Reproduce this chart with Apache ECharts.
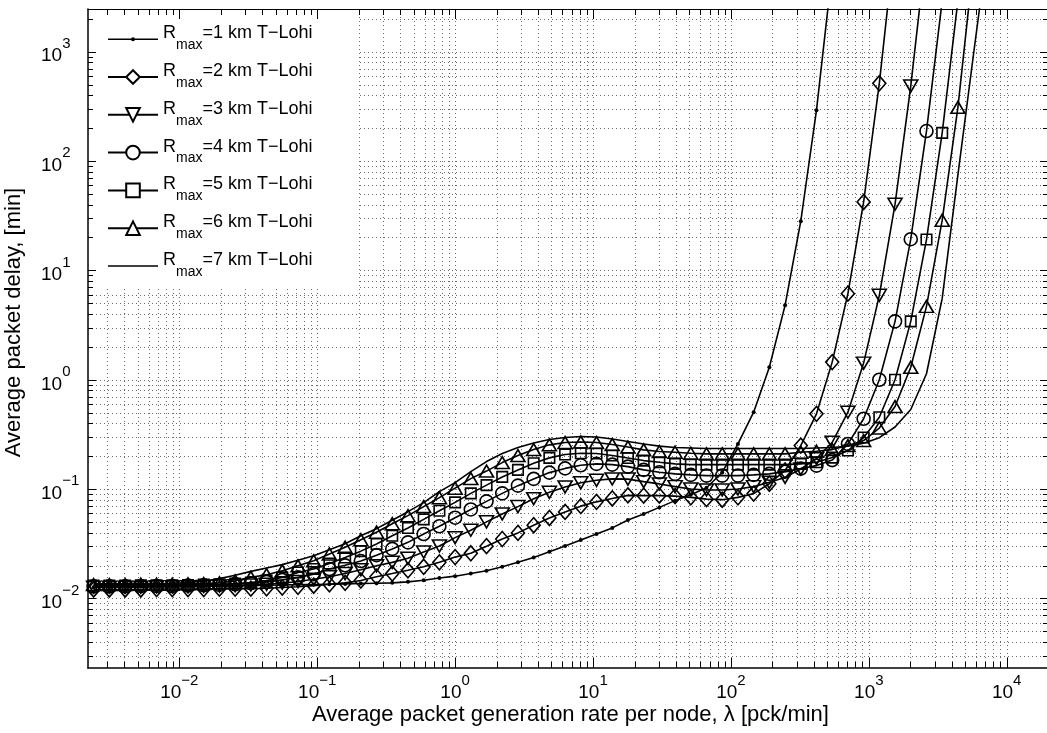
<!DOCTYPE html>
<html><head><meta charset="utf-8">
<script src="https://cdn.jsdelivr.net/npm/echarts@6/dist/echarts.min.js"></script>
<style>html,body{margin:0;padding:0;background:#fff}#c{width:1047px;height:733px}</style>
</head><body><div id="c"></div>
<script>
// ---- data ----
const rateValues = [0.00239, 0.00311, 0.00405, 0.00526, 0.00684, 0.00889, 0.01156, 0.01503, 0.01954, 0.0254,
  0.03302, 0.04292, 0.0558, 0.07254, 0.0943, 0.1226, 0.1594, 0.2072, 0.2693, 0.3501,
  0.4552, 0.5917, 0.7692, 1, 1.3, 1.69, 2.197, 2.856, 3.713, 4.827,
  6.275, 8.157, 10.6, 13.79, 17.92, 23.3, 30.29, 39.37, 51.19, 66.54,
  86.5, 112.5, 146.2, 190, 247.1, 321.2, 417.5, 542.8, 705.6, 917.3,
  1192, 1550, 2015, 2620, 3406, 4428, 5756, 7483];

const seriesNames = ['Rmax=1 km T−Lohi', 'Rmax=2 km T−Lohi', 'Rmax=3 km T−Lohi', 'Rmax=4 km T−Lohi',
  'Rmax=5 km T−Lohi', 'Rmax=6 km T−Lohi', 'Rmax=7 km T−Lohi'];

const delayR1 = [0.0127, 0.0127, 0.0127, 0.0128, 0.0128, 0.0128, 0.0129, 0.0129, 0.013, 0.013,
  0.0131, 0.0132, 0.0133, 0.0134, 0.0134, 0.0135, 0.0136, 0.0137, 0.0138, 0.0139,
  0.0142, 0.0147, 0.0154, 0.016, 0.0169, 0.0179, 0.0195, 0.0214, 0.0237, 0.0268,
  0.0302, 0.0343, 0.0389, 0.0442, 0.0522, 0.0593, 0.0681, 0.0785, 0.089, 0.103,
  0.142, 0.259, 0.505, 1.30, 4.79, 28.2, 292, 5560];
const delayR2 = [0.0121, 0.0121, 0.0121, 0.0121, 0.0122, 0.0122, 0.0122, 0.0122, 0.0123, 0.0123, 0.0123,
  0.0124, 0.0126, 0.0128, 0.0131, 0.0135, 0.0139, 0.0146, 0.0158, 0.0169, 0.0181,
  0.0195, 0.0214, 0.0239, 0.0259, 0.0301, 0.035, 0.0398, 0.0468, 0.0545, 0.0619,
  0.0699, 0.0765, 0.0822, 0.0877, 0.0872, 0.0872, 0.0863, 0.0841, 0.081, 0.0801,
  0.0841, 0.091, 0.112, 0.148, 0.250, 0.488, 1.45, 6.13, 42.3, 514, 10650];
const delayR3 = [0.0127, 0.0127, 0.0127, 0.0127, 0.0128, 0.0128, 0.0128, 0.0129, 0.013, 0.0131, 0.0133,
  0.0135, 0.0138, 0.0143, 0.015, 0.0158, 0.0169, 0.0183, 0.0199, 0.0214, 0.0233,
  0.0266, 0.0302, 0.036, 0.0421, 0.0502, 0.0593, 0.0692, 0.0818, 0.0935, 0.1047,
  0.1142, 0.1206, 0.124, 0.1235, 0.1171, 0.1116, 0.1054, 0.1004, 0.0983, 0.0983,
  0.1004, 0.1054, 0.1154, 0.128, 0.153, 0.19, 0.268, 0.505, 1.42, 5.92, 40.3, 485, 9100];
const delayR4 = [0.0129, 0.0129, 0.0129, 0.013, 0.013, 0.013, 0.0131, 0.0132, 0.0133, 0.0135,
  0.0138, 0.0142, 0.0148, 0.0156, 0.0167, 0.0186, 0.0201, 0.022, 0.0249, 0.0284,
  0.0326, 0.0389, 0.0458, 0.0548, 0.0652, 0.0773, 0.0915, 0.1076, 0.124, 0.1416,
  0.1547, 0.1652, 0.1701, 0.1676, 0.1607, 0.1499, 0.1425, 0.1378, 0.1349, 0.1329,
  0.1329, 0.1329, 0.1349, 0.1378, 0.1446, 0.1541, 0.1641, 0.1843, 0.259, 0.44,
  1.0, 3.42, 19.3, 188, 2930];
const delayR5 = [0.0131, 0.0131, 0.0131, 0.0132, 0.0132, 0.0132, 0.0133, 0.0134, 0.0135, 0.0137,
  0.014, 0.0146, 0.0156, 0.0173, 0.0186, 0.0209, 0.0237, 0.0271, 0.0315, 0.0375,
  0.0441, 0.0529, 0.0635, 0.0757, 0.0915, 0.1088, 0.1293, 0.1499, 0.1722, 0.1931,
  0.207, 0.2127, 0.212, 0.2027, 0.1923, 0.1824, 0.176, 0.1701, 0.1676, 0.1676,
  0.1676, 0.1676, 0.1676, 0.1676, 0.1676, 0.1701, 0.176, 0.1943, 0.2252, 0.2962,
  0.4545, 1.0, 3.42, 19.15, 181, 2930];
const delayR6 = [0.0134, 0.0134, 0.0134, 0.0135, 0.0135, 0.0135, 0.0136, 0.0137, 0.0139, 0.0145,
  0.0156, 0.0165, 0.0179, 0.0199, 0.0221, 0.0255, 0.0294, 0.0345, 0.0404, 0.0483,
  0.0572, 0.0692, 0.0836, 0.1021, 0.1248, 0.1462, 0.1748, 0.2027, 0.2299, 0.254,
  0.2666, 0.2694, 0.2666, 0.2556, 0.2424, 0.2285, 0.2205, 0.2173, 0.2127, 0.21,
  0.21, 0.21, 0.21, 0.21, 0.21, 0.2173, 0.2219, 0.2299, 0.2502, 0.278,
  0.362, 0.569, 1.30, 4.69, 28.8, 310, 6660];
const delayR7 = [0.0136, 0.0136, 0.0136, 0.0137, 0.0137, 0.0138, 0.014, 0.0144, 0.0152, 0.0163,
  0.0177, 0.019, 0.0204, 0.0224, 0.0246, 0.0279, 0.0317, 0.0375, 0.0435, 0.052,
  0.0622, 0.0752, 0.0949, 0.1147, 0.1446, 0.1786, 0.2114, 0.2399, 0.2637, 0.284,
  0.2962, 0.3026, 0.2994, 0.287, 0.2723, 0.2584, 0.2475, 0.2399, 0.2374, 0.2349,
  0.2349, 0.2349, 0.2349, 0.2349, 0.2349, 0.2349, 0.2374, 0.24, 0.247, 0.2632,
  0.2956, 0.3697, 0.5346, 1.135, 5.55, 74.9, 963, 11960];

const xTickExponents = [-2, -1, 0, 1, 2, 3, 4];
const yTickExponents = [-2, -1, 0, 1, 2, 3];
const xName = 'Average packet generation rate per node, λ [pck/min]';
const yName = 'Average packet delay, [min]';

// ---- layout / style ----
const X_MIN = 0.002177, X_MAX = 19930, Y_MIN = 0.002314, Y_MAX = 2457;
const FONT = '"Liberation Sans", Arial, Helvetica, sans-serif';
const allDelays = [delayR1, delayR2, delayR3, delayR4, delayR5, delayR6, delayR7];
const markers = [
  { symbol: 'circle', size: 4, fill: '#000' },
  { symbol: 'diamond', size: [13, 15] },
  { symbol: 'triangle', size: [14, 12], rotate: 180 },
  { symbol: 'circle', size: 13 },
  { symbol: 'rect', size: 10.5 },
  { symbol: 'triangle', size: [14, 12] },
  { symbol: 'none' }
];

function supLabel(v) {
  const e = Math.round(Math.log10(v));
  if (Math.abs(Math.log10(v) - e) > 1e-6) return '';
  if (xTickExponents.indexOf(e) < 0 && yTickExponents.indexOf(e) < 0) return '';
  return '{b|10}{s|' + (e < 0 ? '−' + (-e) : e) + '}';
}

// grid/tick positions m*10^k
const xGrid = [], yGrid = [], tickData = [];
for (let k = -3; k <= 4; k++) for (let m = 1; m <= 9; m++) {
  const v = m * Math.pow(10, k);
  if (v > X_MIN && v < X_MAX) { xGrid.push([v, 1, 0]); tickData.push([v, 1, m === 1 ? 0 : 1]); }
}
for (let k = -3; k <= 3; k++) for (let m = 1; m <= 9; m++) {
  const v = m * Math.pow(10, k);
  if (v > Y_MIN && v < Y_MAX) { yGrid.push([1, v, 1]); tickData.push([1, v, m === 1 ? 2 : 3]); }
}

const gridStyle = { stroke: '#6a6a6a', lineWidth: 1, lineDash: [1, 3] };
function renderGrid(params, api) {
  const cs = params.coordSys;
  if (api.value(2) === 0) {
    const px = Math.round(api.coord([api.value(0), 1])[0]) + 0.5;
    return { type: 'line', shape: { x1: px, y1: cs.y, x2: px, y2: cs.y + cs.height }, style: gridStyle };
  }
  const py = Math.round(api.coord([1, api.value(1)])[1]) + 0.5;
  return { type: 'line', shape: { x1: cs.x, y1: py, x2: cs.x + cs.width, y2: py }, style: gridStyle };
}
function renderTicks(params, api) {
  const cs = params.coordSys;
  const kind = api.value(2);
  const st = { stroke: '#000', lineWidth: 1 };
  if (kind < 2) {
    const len = kind === 0 ? 10 : 6;
    const px = Math.round(api.coord([api.value(0), 1])[0]) + 0.5;
    const yb = cs.y + cs.height, yt = cs.y;
    return { type: 'group', children: [
      { type: 'line', shape: { x1: px, y1: yb, x2: px, y2: yb - len }, style: st },
      { type: 'line', shape: { x1: px, y1: yt, x2: px, y2: yt + len }, style: st }] };
  }
  const len = kind === 2 ? 8 : 5;
  const py = Math.round(api.coord([1, api.value(1)])[1]) + 0.5;
  const xl = cs.x, xr = cs.x + cs.width;
  return { type: 'group', children: [
    { type: 'line', shape: { x1: xl, y1: py, x2: xl + len, y2: py }, style: st },
    { type: 'line', shape: { x1: xr, y1: py, x2: xr - len, y2: py }, style: st }] };
}

const lineSeries = seriesNames.map((name, i) => {
  const mk = markers[i];
  return {
    name, type: 'line', z: 5,
    data: rateValues.map((x, j) => [x, allDelays[i][j]]).filter(p => p[1] != null),
    symbol: mk.symbol, symbolSize: mk.size || 0, symbolRotate: mk.rotate || 0,
    showSymbol: mk.symbol !== 'none', showAllSymbol: true, clip: true, smooth: false,
    lineStyle: { color: '#000', width: 1.6 },
    itemStyle: { color: mk.fill || 'rgba(0,0,0,0)', borderColor: '#000', borderWidth: mk.fill ? 0 : 1.6 },
    emphasis: { disabled: true }, silent: true
  };
});

const legendData = seriesNames.map((name, i) => {
  if (i === 0) return { name, icon: 'path://M0,6.2L50,6.2L50,7.8L0,7.8ZM27,7A2,2,0,1,1,23,7A2,2,0,1,1,27,7Z', itemStyle: { color: '#000', borderWidth: 0 } };
  if (i === 6) return { name, icon: 'path://M0,0L50,0L50,1.6L0,1.6Z', itemStyle: { color: '#000', borderWidth: 0 } };
  return { name, itemStyle: { color: '#fff' } };
});

const option = {
  animation: false,
  backgroundColor: '#fff',
  textStyle: { fontFamily: FONT },
  grid: { left: 88, top: 9, right: -1, bottom: 65, containLabel: false, outerBoundsMode: 'none' },
  xAxis: [{
    type: 'log', min: X_MIN, max: X_MAX, position: 'bottom',
    name: xName, nameLocation: 'middle', nameGap: 36, nameMoveOverlap: false,
    nameTextStyle: { fontSize: 22, color: '#000', fontFamily: FONT, padding: [0, 0, 0, 5] },
    axisLine: { show: true, onZero: false, lineStyle: { color: '#000', width: 1.5 } },
    axisTick: { show: false }, splitLine: { show: false }, minorTick: { show: false },
    axisLabel: {
      show: true, margin: 14, formatter: supLabel, color: '#000', showMinLabel: true, showMaxLabel: true, hideOverlap: false,
      rich: {
        b: { fontSize: 19, lineHeight: 22, fontFamily: FONT, color: '#000' },
        s: { fontSize: 15, lineHeight: 17, fontFamily: FONT, color: '#000', padding: [0, 0, 24, 0] }
      }
    }
  }, {
    type: 'log', min: X_MIN, max: X_MAX, position: 'top',
    axisLine: { show: true, onZero: false, lineStyle: { color: '#000', width: 1 } },
    axisTick: { show: false }, axisLabel: { show: false }, splitLine: { show: false }
  }],
  yAxis: {
    type: 'log', min: Y_MIN, max: Y_MAX,
    name: yName, nameLocation: 'middle', nameGap: 63, nameRotate: 90, nameMoveOverlap: false,
    nameTextStyle: { fontSize: 22, color: '#000', fontFamily: FONT, padding: [0, 0, 0, 32] },
    axisLine: { show: true, onZero: false, lineStyle: { color: '#000', width: 1.5 } },
    axisTick: { show: false }, splitLine: { show: false }, minorTick: { show: false },
    axisLabel: {
      show: true, margin: 47, align: 'left', formatter: supLabel, color: '#000', hideOverlap: false,
      rich: {
        b: { fontSize: 19, lineHeight: 22, fontFamily: FONT, color: '#000', padding: [9, 0, 0, 0] },
        s: { fontSize: 15, lineHeight: 17, fontFamily: FONT, color: '#000', padding: [0, 0, 16, 0] }
      }
    }
  },
  legend: {
    orient: 'vertical', left: 90, top: 12.2,
    padding: [12, 46, 8, 17],
    itemWidth: 50, itemHeight: 17, itemGap: 7.8,
    backgroundColor: '#fff', borderWidth: 0,
    selectedMode: false,
    data: legendData,
    formatter: name => '{r|R}{s|max}{r|' + name.slice(4) + '}',
    textStyle: {
      color: '#000', fontFamily: FONT,
      rich: {
        r: { fontSize: 18, lineHeight: 21, fontFamily: FONT, color: '#000', padding: [0, 0, 12, 0] },
        s: { fontSize: 14, lineHeight: 16, fontFamily: FONT, color: '#000', padding: [12, 0, 0, 0] }
      }
    }
  },
  series: [
    { type: 'custom', name: 'grid', renderItem: renderGrid, data: xGrid.concat(yGrid), z: 1, silent: true, clip: false },
    ...lineSeries,
    { type: 'custom', name: 'ticks', renderItem: renderTicks, data: tickData, z: 10, silent: true, clip: false }
  ]
};

const chart = echarts.init(document.getElementById('c'), null, { renderer: 'canvas' });
chart.setOption(option);
</script>
</body></html>
